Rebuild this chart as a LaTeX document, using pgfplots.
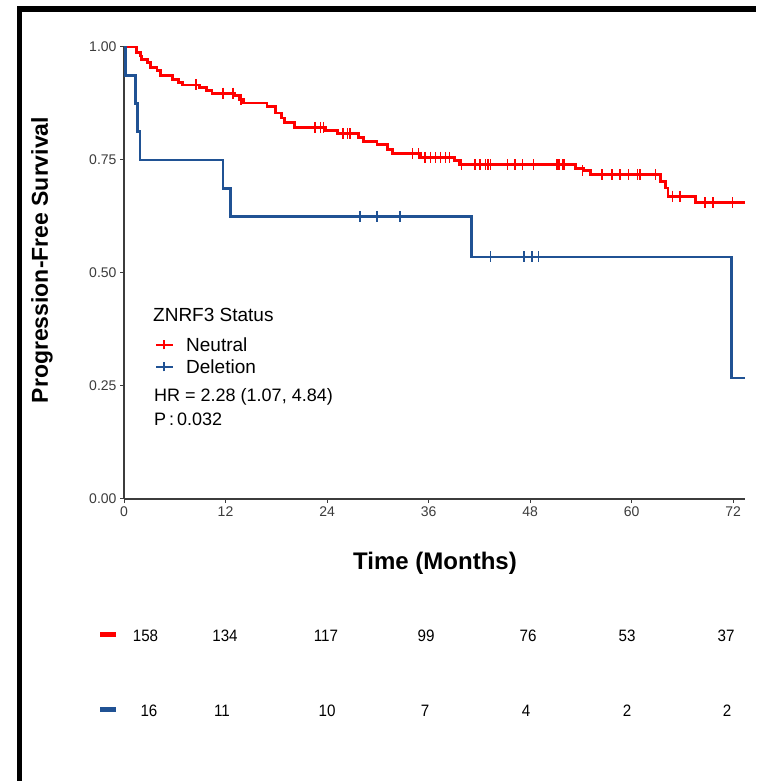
\documentclass[border=0pt]{standalone}
\usepackage{fontspec}
\setmainfont{Liberation Sans}
\usepackage{pgfplots}
\pgfplotsset{compat=1.18}
\definecolor{kmred}{RGB}{255,0,0}
\definecolor{kmblue}{RGB}{32,82,148}
\definecolor{axgray}{RGB}{60,60,60}
\begin{document}
\begin{tikzpicture}[x=1pt,y=1pt]
\useasboundingbox[fill=white] (0,0) rectangle (756,781);
\begin{axis}[
  at={(124pt,282pt)}, anchor=south west,
  scale only axis, width=621pt, height=452pt,
  xmin=0, xmax=73.4, ymin=0, ymax=1,
  axis x line=bottom, axis y line=left,
  axis line style={axgray, line width=1.2pt, -},
  xtick={0,12,24,36,48,60,72},
  ytick={0,0.25,0.5,0.75,1},
  yticklabels={0.00,0.25,0.50,0.75,1.00},
  tick style={axgray, line width=1pt},
  tick align=outside, major tick length=4pt,
  ticklabel style={font=\fontsize{14}{16}\selectfont, text=axgray},
  /pgf/number format/assume math mode=true,
  clip=false,
]
% Neutral
\addplot[kmred, line width=2.9pt, const plot] coordinates {
(0,1.000) (1.5,0.987) (1.9,0.980) (2.1,0.973) (2.8,0.965) (3.1,0.954)
(3.9,0.947) (4.3,0.936) (5.7,0.929) (6.4,0.921) (6.9,0.916) (8.9,0.910)
(9.8,0.903) (10.4,0.898) (13.1,0.892) (13.7,0.884) (14.1,0.876) (16.9,0.869)
(17.9,0.854) (18.6,0.843) (19.0,0.832) (20.2,0.822) (23.8,0.815) (25.2,0.808)
(27.7,0.799) (28.3,0.791) (29.9,0.784) (31.1,0.773) (31.7,0.764) (35.0,0.756)
(39.1,0.748) (39.7,0.740) (53.4,0.731) (54.3,0.726) (55.1,0.717) (63.4,0.703)
(64.0,0.688) (64.3,0.670) (67.5,0.655) (73.4,0.655)
};
\addplot[kmred, only marks, mark=|, mark size=5.5pt, mark options={line width=1.5pt}] coordinates {
(8.5,0.916) (11.7,0.898) (12.9,0.898) (13.8,0.884) (22.6,0.822) (23.2,0.822)
(23.6,0.822) (25.9,0.808) (26.4,0.808) (26.7,0.808) (34.1,0.764) (34.8,0.764)
(35.6,0.756) (36.2,0.756) (36.8,0.756) (37.4,0.756) (38.0,0.756) (38.5,0.756)
(39.9,0.740) (41.5,0.740) (42.1,0.740) (42.7,0.740) (43.0,0.740) (43.3,0.740)
(45.3,0.740) (46.2,0.740) (47.1,0.740) (48.4,0.740) (51.2,0.740) (51.4,0.740)
(51.8,0.740) (52.0,0.740) (54.2,0.726) (56.5,0.717) (57.7,0.717) (58.6,0.717)
(59.6,0.717) (60.7,0.717) (61.0,0.717) (62.8,0.717) (64.8,0.670) (65.7,0.670)
(68.7,0.655) (69.6,0.655) (71.9,0.655)
};
% Deletion
\addplot[kmblue, line width=2.7pt, const plot] coordinates {
(0,1.000) (0.15,0.9375) (1.4,0.875) (1.6,0.8125) (1.9,0.75) (11.7,0.6875)
(12.6,0.625) (41.1,0.5357) (71.8,0.2679) (73.4,0.2679)
};
\addplot[kmblue, only marks, mark=|, mark size=5.5pt, mark options={line width=1.5pt}] coordinates {
(27.9,0.625) (29.9,0.625) (32.6,0.625) (43.3,0.5357) (47.3,0.5357) (48.2,0.5357) (49.0,0.5357)
};
\end{axis}
% axis titles
\node[font=\bfseries\fontsize{24}{28}\selectfont] at (435,218) {Time (Months)};
\node[rotate=90, font=\bfseries\fontsize{23}{27}\selectfont] at (42,521) {Progression-Free Survival};
% legend
\node[anchor=west, inner sep=0pt, font=\fontsize{19}{22}\selectfont] at (153,466) {ZNRF3 Status};
\draw[kmred, line width=2.2pt] (156,436) -- (173,436);
\draw[kmred, line width=1.5pt] (164,431.5) -- (164,440.5);
\node[anchor=west, inner sep=0pt, font=\fontsize{19}{22}\selectfont] at (186,436) {Neutral};
\draw[kmblue, line width=2.2pt] (156,414) -- (173,414);
\draw[kmblue, line width=1.5pt] (164,409.5) -- (164,418.5);
\node[anchor=west, inner sep=0pt, font=\fontsize{19}{22}\selectfont] at (186,414) {Deletion};
\node[anchor=west, inner sep=0pt, font=\fontsize{18}{21}\selectfont] at (154,384) {HR = 2.28 (1.07, 4.84)};
\node[anchor=west, inner sep=0pt, font=\fontsize{18}{21}\selectfont] at (154,362) {P\,:\,0.032};
% risk table
\fill[kmred] (100,144) rectangle (116,149);
\fill[kmblue] (100,69) rectangle (116,74);
\foreach \x/\n in {145.5/158,225/134,326/117,426/99,528/76,627/53,726/37}
  \node[font=\fontsize{16.5}{20}\selectfont, xscale=0.92] at (\x,145.5) {\n};
\foreach \x/\n in {149/16,222/11,327/10,425/7,526/4,627/2,727/2}
  \node[font=\fontsize{16.5}{20}\selectfont, xscale=0.92] at (\x,70.5) {\n};
% frame
\draw[line width=5.5pt, line join=miter] (19.5,0) -- (19.5,772) -- (756,772);
\end{tikzpicture}
\end{document}
